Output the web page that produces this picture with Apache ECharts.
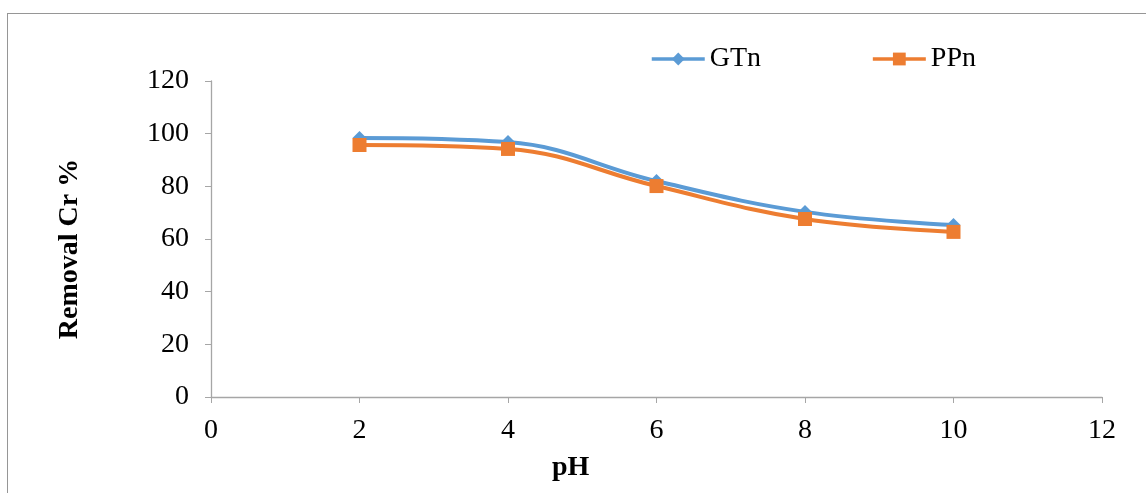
<!DOCTYPE html>
<html>
<head>
<meta charset="utf-8">
<script src="https://cdn.jsdelivr.net/npm/echarts@6/dist/echarts.min.js"></script>
<style>
html,body{margin:0;padding:0;background:#fff;}
#frame{position:absolute;left:7px;top:13px;width:1200px;height:600px;border-top:1px solid #969696;border-left:1px solid #969696;}
#main{position:absolute;left:0;top:0;width:1146px;height:493px;}
</style>
</head>
<body>
<div id="frame"></div>
<div id="main"></div>
<script>
const phValues = [2, 4, 6, 8, 10];
const gtnValues = [98.4, 96.8, 82.0, 70.3, 65.3];
const ppnValues = [95.7, 94.2, 80.1, 67.6, 62.7];
const seriesNames = ['GTn', 'PPn'];
const xTitle = 'pH';
const yTitle = 'Removal Cr %';

const font = '"Liberation Serif", "Times New Roman", serif';
const chart = echarts.init(document.getElementById('main'), null, {renderer: 'canvas'});
const pair = (xs, ys) => xs.map((x, i) => [x, ys[i]]);

chart.setOption({
  animation: false,
  backgroundColor: 'transparent',
  textStyle: {fontFamily: font},
  grid: {left: 211, right: 44, top: 81, bottom: 96, containLabel: false},
  legend: {
    left: 645, top: 40,
    itemWidth: 53, itemHeight: 16, itemGap: 110,
    lineStyle: {width: 3.5},
    textStyle: {fontFamily: font, fontSize: 28, color: '#000'},
    data: seriesNames
  },
  xAxis: {
    type: 'value', min: 0, max: 12, interval: 2,
    axisLine: {show: true, lineStyle: {color: '#a6a6a6', width: 1.3}},
    axisTick: {show: true, length: 6, lineStyle: {color: '#a6a6a6'}},
    axisLabel: {fontFamily: font, fontSize: 28, color: '#000', margin: 20},
    splitLine: {show: false}
  },
  yAxis: {
    type: 'value', min: 0, max: 120, interval: 20,
    axisLine: {show: true, lineStyle: {color: '#a6a6a6', width: 1.3}},
    axisTick: {show: true, length: 6, lineStyle: {color: '#a6a6a6'}},
    axisLabel: {fontFamily: font, fontSize: 28, color: '#000', margin: 22},
    splitLine: {show: false}
  },
  graphic: [
    {type: 'text', left: 552, top: 454, style: {text: xTitle, font: 'bold 28px ' + font, fill: '#000'}},
    {type: 'text', x: 70, y: 249, rotation: Math.PI / 2,
     style: {text: yTitle, font: 'bold 28px ' + font, fill: '#000', align: 'center', verticalAlign: 'middle'}}
  ],
  series: [
    {
      name: seriesNames[0], type: 'line', smooth: 0.4,
      data: pair(phValues, gtnValues),
      symbol: 'diamond', symbolSize: 14,
      lineStyle: {color: '#5b9bd5', width: 4},
      itemStyle: {color: '#5b9bd5'}
    },
    {
      name: seriesNames[1], type: 'line', smooth: 0.4,
      data: pair(phValues, ppnValues),
      symbol: 'rect', symbolSize: 14,
      lineStyle: {color: '#ed7d31', width: 4},
      itemStyle: {color: '#ed7d31'}
    }
  ]
});
</script>
</body>
</html>
